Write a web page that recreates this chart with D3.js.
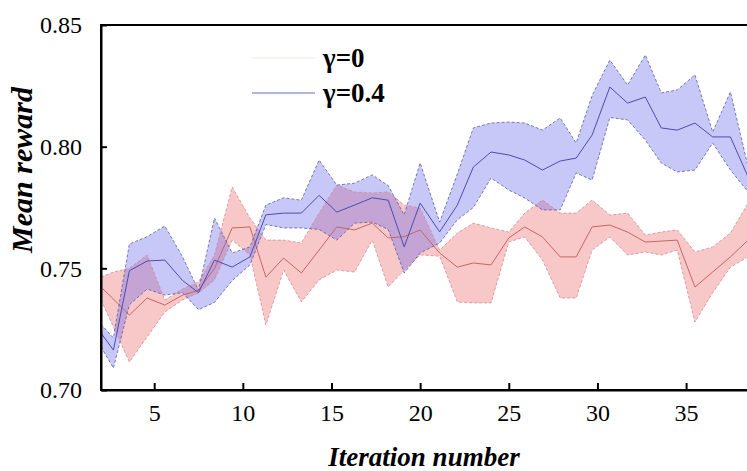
<!DOCTYPE html>
<html>
<head>
<meta charset="utf-8">
<script src="https://cdn.jsdelivr.net/npm/d3@7"></script>
<style>
  body { margin: 0; background: #fff; }
  svg { display: block; }
</style>
</head>
<body>
<svg id="chart"></svg>
<script>
// iteration positions of the recorded points
const iterations = [2.0, 2.7, 3.6, 4.6, 5.6, 6.6, 7.5, 8.4, 9.4, 10.4, 11.3, 12.3, 13.3, 14.3, 15.3, 16.3, 17.3, 18.2, 19.1, 20.0,
  21.1, 22.1, 23.0, 24.0, 25.0, 25.9, 26.9, 27.9, 28.8, 29.7, 30.7, 31.7, 32.7, 33.6, 34.5, 35.5, 36.5, 37.5, 38.5];

// gamma = 0
const g0Mean = [0.7423, 0.7374, 0.7308, 0.7378, 0.7349, 0.7390, 0.7410, 0.7500, 0.7666, 0.7670, 0.7464, 0.7542, 0.7481, 0.7575, 0.7670, 0.7658, 0.7686, 0.7625, 0.7630, 0.7658,
  0.7563, 0.7505, 0.7522, 0.7514, 0.7625, 0.7670, 0.7629, 0.7547, 0.7547, 0.7670, 0.7678, 0.7649, 0.7608, 0.7612, 0.7616, 0.7423, 0.7485, 0.7547, 0.7616];
const g0Upper = [0.7464, 0.7485, 0.7500, 0.7555, 0.7370, 0.7415, 0.7444, 0.7555, 0.7834, 0.7707, 0.7616, 0.7616, 0.7604, 0.7727, 0.7842, 0.7814, 0.7810, 0.7814, 0.7760, 0.7748,
  0.7575, 0.7645, 0.7686, 0.7666, 0.7649, 0.7727, 0.7781, 0.7727, 0.7727, 0.7781, 0.7719, 0.7727, 0.7637, 0.7649, 0.7658, 0.7567, 0.7588, 0.7645, 0.7768];
const g0Lower = [0.7370, 0.7260, 0.7115, 0.7218, 0.7321, 0.7370, 0.7399, 0.7452, 0.7616, 0.7555, 0.7267, 0.7493, 0.7362, 0.7452, 0.7493, 0.7485, 0.7616, 0.7423, 0.7493, 0.7555,
  0.7550, 0.7362, 0.7358, 0.7358, 0.7608, 0.7629, 0.7534, 0.7378, 0.7378, 0.7575, 0.7629, 0.7555, 0.7567, 0.7555, 0.7575, 0.7279, 0.7400, 0.7505, 0.7547];

// gamma = 0.4
const g4Mean = [0.7234, 0.7164, 0.7490, 0.7530, 0.7534, 0.7450, 0.7400, 0.7534, 0.7505, 0.7547, 0.7720, 0.7727, 0.7727, 0.7800, 0.7731, 0.7760, 0.7790, 0.7780, 0.7588, 0.7768,
  0.7650, 0.7760, 0.7916, 0.7978, 0.7966, 0.7945, 0.7904, 0.7941, 0.7953, 0.8048, 0.8245, 0.8179, 0.8204, 0.8077, 0.8068, 0.8097, 0.8040, 0.8040, 0.7875];
const g4Upper = [0.7270, 0.7214, 0.7600, 0.7630, 0.7674, 0.7547, 0.7410, 0.7707, 0.7563, 0.7588, 0.7760, 0.7790, 0.7780, 0.7945, 0.7842, 0.7850, 0.7884, 0.7840, 0.7720, 0.7933,
  0.7690, 0.7888, 0.8077, 0.8097, 0.8101, 0.8097, 0.8068, 0.8118, 0.8015, 0.8210, 0.8356, 0.8253, 0.8377, 0.8221, 0.8233, 0.8295, 0.8060, 0.8225, 0.7916];
const g4Lower = [0.7177, 0.7090, 0.7350, 0.7415, 0.7390, 0.7400, 0.7330, 0.7360, 0.7450, 0.7514, 0.7680, 0.7666, 0.7666, 0.7660, 0.7616, 0.7686, 0.7690, 0.7660, 0.7481, 0.7563,
  0.7604, 0.7700, 0.7750, 0.7871, 0.7822, 0.7789, 0.7740, 0.7740, 0.7892, 0.7863, 0.8120, 0.8110, 0.8027, 0.7933, 0.7896, 0.7904, 0.8015, 0.7904, 0.7814];

const xTicks = [5, 10, 15, 20, 25, 30, 35];
const yTicks = [0.70, 0.75, 0.80, 0.85];

const width = 747, height = 471;
const plotLeft = 101, plotTop = 25, plotBottom = 390;
const font = 'Liberation Serif';

const svg = d3.select('#chart')
  .attr('width', width)
  .attr('height', height);

const x = d3.scaleLinear().domain([2, 40]).range([plotLeft, plotLeft + 38 * 17.73]);
const y = d3.scaleLinear().domain([0.70, 0.85]).range([plotBottom, plotTop]);

const series = [
  { name: 'γ=0', mean: g0Mean, lo: g0Lower, hi: g0Upper,
    fill: 'rgba(235,98,98,0.35)', edge: '#d48a8a', line: '#c46666', legend: '#f6e4e4' },
  { name: 'γ=0.4', mean: g4Mean, lo: g4Lower, hi: g4Upper,
    fill: 'rgba(98,98,235,0.35)', edge: '#5a5aa6', line: '#4c4cae', legend: '#6a6ac4' }
];

const area = d3.area()
  .x((d, i) => x(iterations[i]))
  .y0(d => y(d[0]))
  .y1(d => y(d[1]));

const line = d3.line()
  .x((d, i) => x(iterations[i]))
  .y(d => y(d));

const plot = svg.append('g');

series.forEach(s => {
  plot.append('path')
    .datum(s.lo.map((v, i) => [v, s.hi[i]]))
    .attr('fill', s.fill)
    .attr('d', area);
});

series.forEach(s => {
  [s.lo, s.hi].forEach(edge => {
    plot.append('path')
      .datum(edge)
      .attr('fill', 'none')
      .attr('stroke', s.edge)
      .attr('stroke-width', 0.8)
      .attr('stroke-dasharray', '3,2')
      .attr('d', line);
  });
  plot.append('path')
    .datum(s.mean)
    .attr('fill', 'none')
    .attr('stroke', s.line)
    .attr('stroke-width', 1)
    .attr('d', line);
});

// frame
svg.append('rect')
  .attr('x', plotLeft)
  .attr('y', plotTop)
  .attr('width', x.range()[1] - plotLeft)
  .attr('height', plotBottom - plotTop)
  .attr('fill', 'none')
  .attr('stroke', '#000')
  .attr('stroke-width', 2);

const xAxis = svg.append('g')
  .attr('transform', `translate(0,${plotBottom})`)
  .call(d3.axisBottom(x).tickValues(xTicks).tickSizeInner(-7).tickSizeOuter(0).tickPadding(14));

const yAxis = svg.append('g')
  .attr('transform', `translate(${plotLeft},0)`)
  .call(d3.axisLeft(y).tickValues(yTicks).tickFormat(d3.format('.2f')).tickSizeInner(-6).tickSizeOuter(0).tickPadding(19));

[xAxis, yAxis].forEach(g => {
  g.attr('font-family', font).attr('font-size', 24);
  g.select('.domain').attr('stroke-width', 2);
  g.selectAll('.tick line').attr('stroke-width', 2);
  g.selectAll('.tick text').attr('fill', '#000');
});

// axis titles
svg.append('text')
  .attr('x', 424)
  .attr('y', 466)
  .attr('text-anchor', 'middle')
  .attr('font-family', font)
  .attr('font-size', 27)
  .attr('font-weight', 'bold')
  .attr('font-style', 'italic')
  .text('Iteration number');

svg.append('text')
  .attr('transform', 'translate(32,170) rotate(-90)')
  .attr('text-anchor', 'middle')
  .attr('font-family', font)
  .attr('font-size', 30)
  .attr('font-weight', 'bold')
  .attr('font-style', 'italic')
  .text('Mean reward');

// legend
const legend = svg.append('g');
series.forEach((s, i) => {
  const ly = 58 + i * 35;
  legend.append('line')
    .attr('x1', 252).attr('x2', 315)
    .attr('y1', ly).attr('y2', ly)
    .attr('stroke', s.legend)
    .attr('stroke-width', 1.2);
  legend.append('text')
    .attr('x', 323)
    .attr('y', ly + 9)
    .attr('font-family', font)
    .attr('font-size', 27)
    .attr('font-weight', 'bold')
    .text(s.name);
});
</script>
</body>
</html>
